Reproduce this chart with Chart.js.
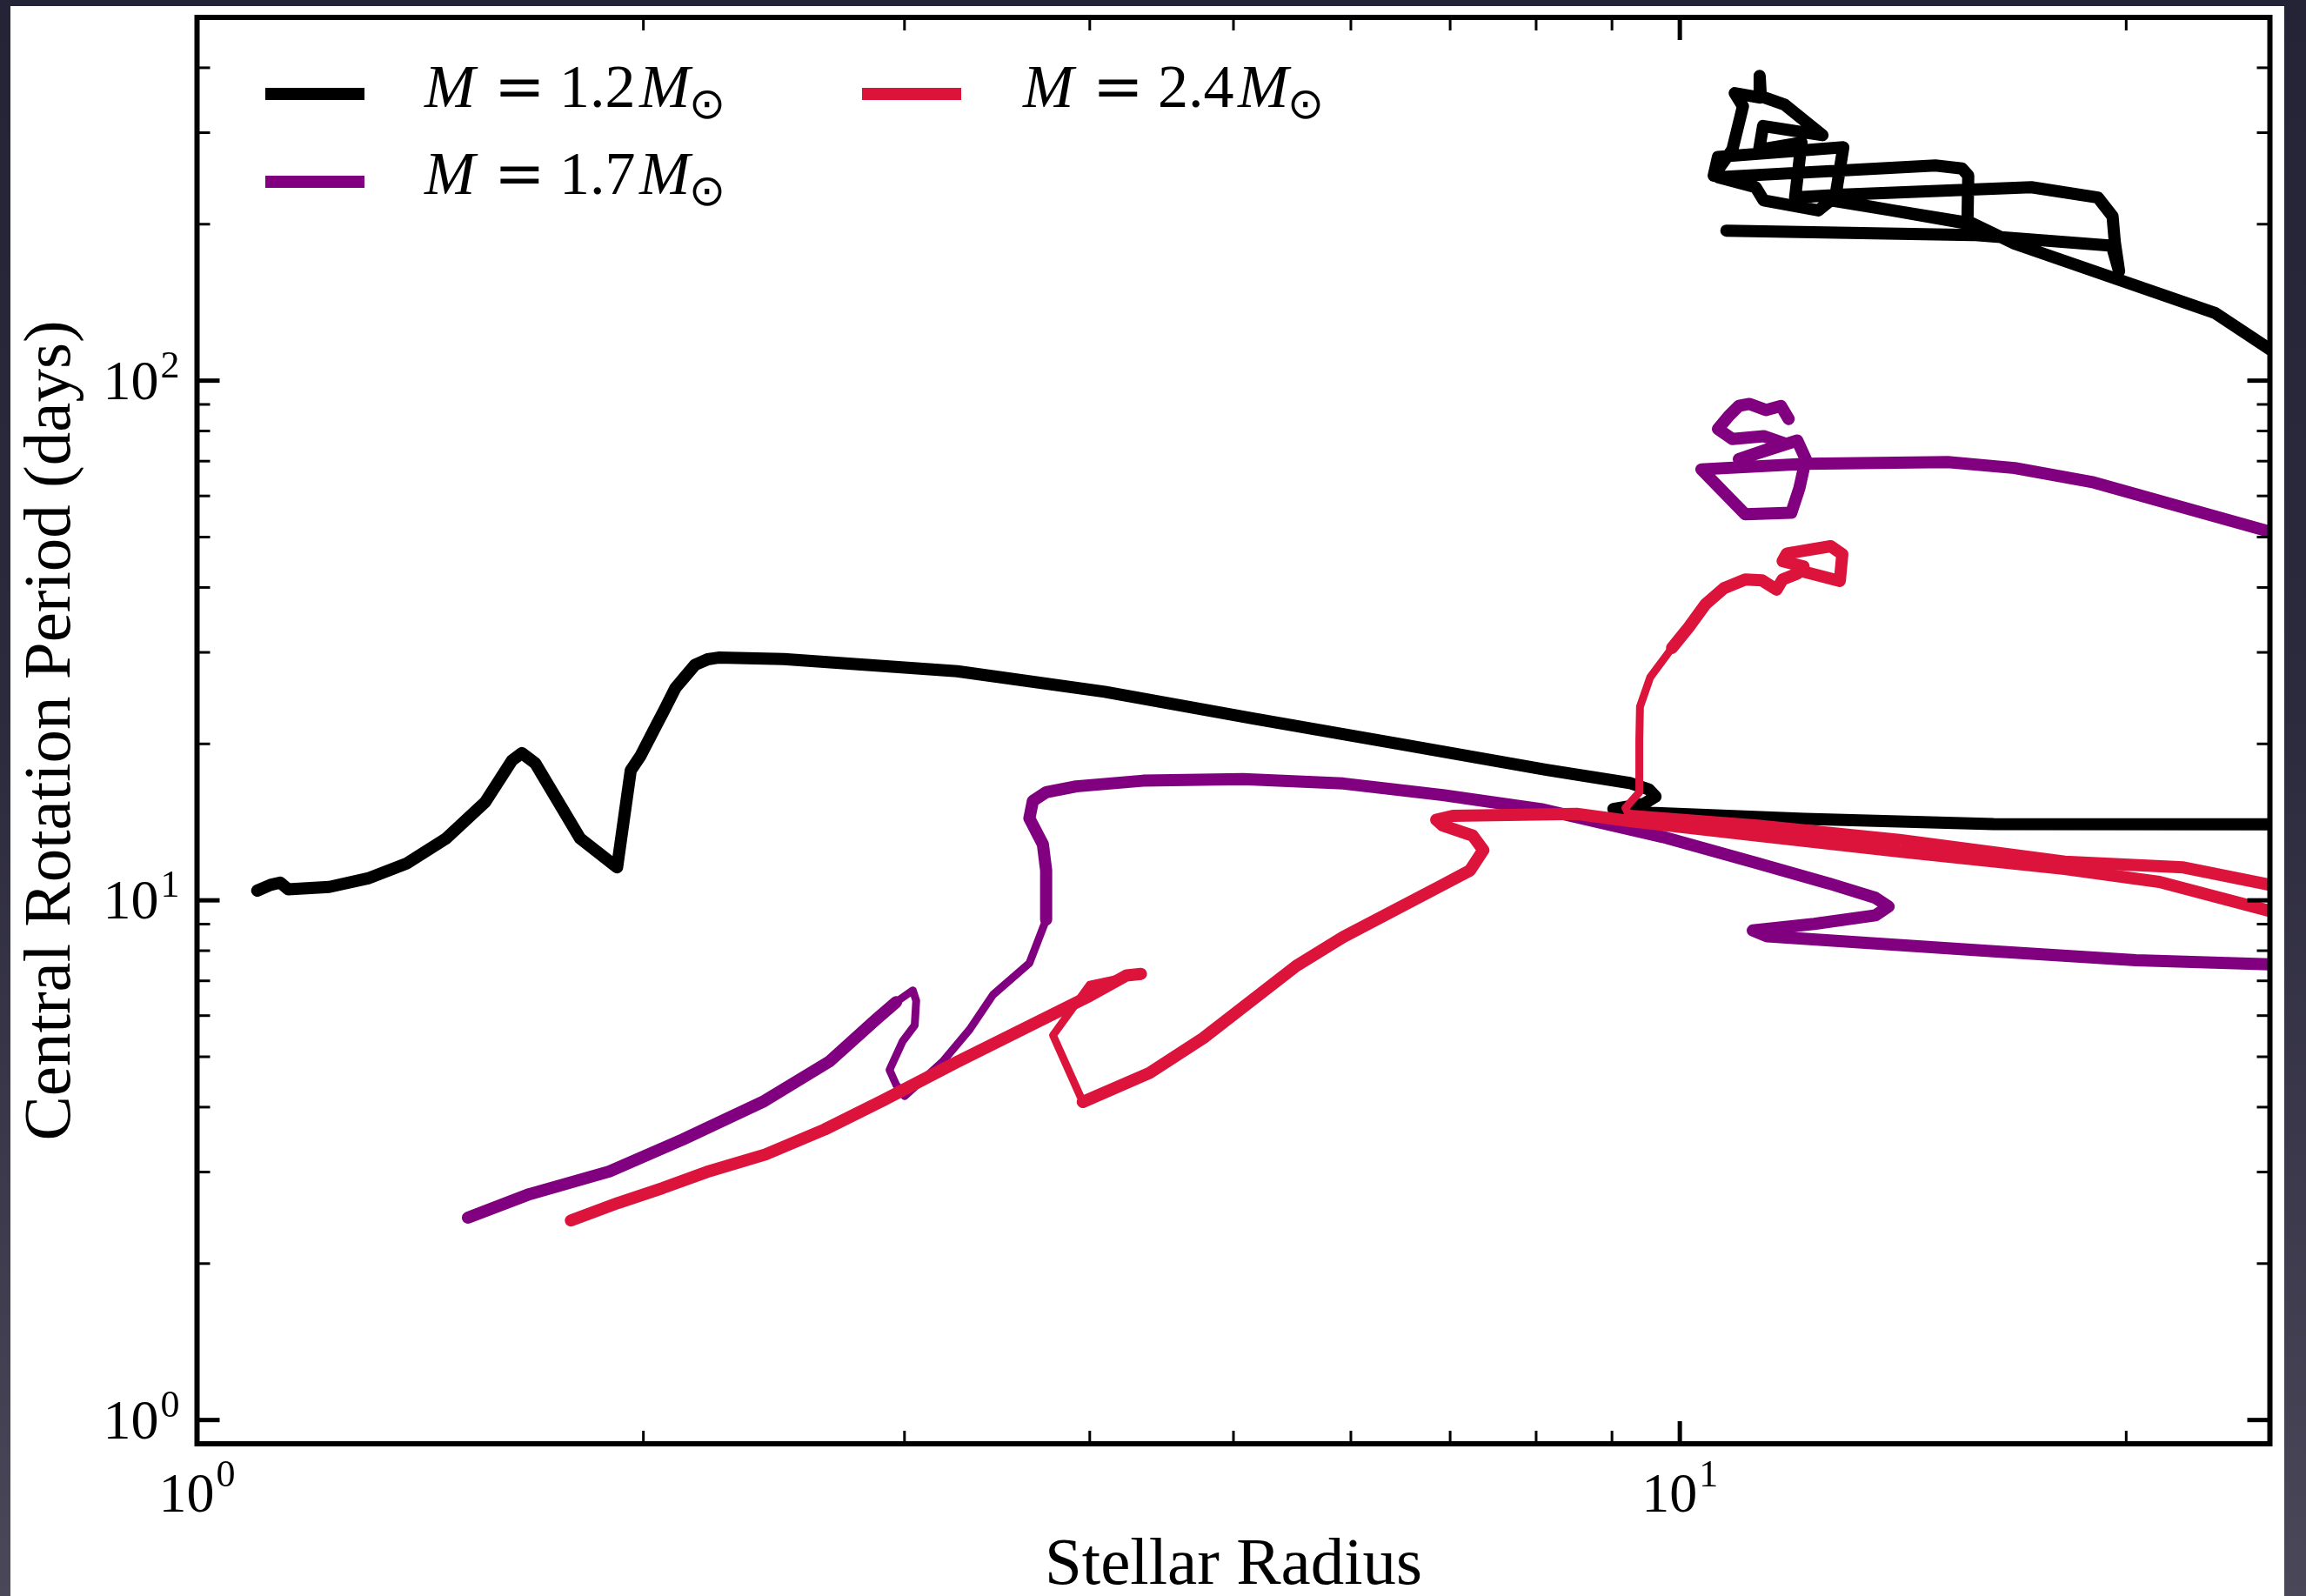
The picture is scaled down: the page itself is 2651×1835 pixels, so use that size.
<!DOCTYPE html>
<html>
<head>
<meta charset="utf-8">
<script src="https://cdn.jsdelivr.net/npm/chart.js@4.4.1/dist/chart.umd.min.js"></script>
<style>
  html, body { margin: 0; padding: 0; width: 2651px; height: 1835px; overflow: hidden;
    background: linear-gradient(to bottom, #252336 0%, #2c2a3d 45%, #4a4759 100%); }
  #panel { position: absolute; left: 12px; top: 7px; width: 2614px; height: 1828px; background: #ffffff; }
  canvas { display: block; }
</style>
</head>
<body>
<div id="panel"><canvas id="chart" width="2614" height="1828"></canvas></div>
<script>
// Stellar masses (solar units) and their line colours
const masses = ['1.2', '1.7', '2.4'];
const lineColors = ['#000000', '#800080', '#dc143c'];

// Evolutionary tracks: [stellar radius, central rotation period in days]; null = track leaves the axes
const track12 = [
  [1.098, 10.44], [1.121, 10.71], [1.138, 10.82], [1.152, 10.50], [1.228, 10.61], [1.304, 11.02],
  [1.386, 11.79], [1.472, 13.15], [1.564, 15.44], [1.631, 18.59], [1.656, 19.20], [1.691, 18.35],
  [1.813, 13.15], [1.920, 11.57], [1.961, 17.77], [1.991, 18.96], [2.040, 21.69], [2.064, 23.11],
  [2.102, 25.62], [2.167, 28.39], [2.210, 29.10], [2.247, 29.31], [2.487, 29.12], [3.256, 27.6], [4.094, 25.2],
  [5.147, 22.4], [6.47, 20.0], [8.13, 17.83], [9.25, 16.82], [9.53, 16.35], [9.63, 15.84],
  [9.46, 15.34], [9.02, 14.99], [9.39, 14.76], [12.14, 14.35], [16.28, 14.02], [25.0, 14.0],
  null,
  [25.0, 114.9], [22.96, 134.9], [16.82, 183.4], [15.76, 200.6], [12.64, 222.3], [12.40, 212.6],
  [11.39, 222.3], [11.25, 235.6], [10.61, 246.4], [14.87, 259.4], [15.50, 256.0], [15.65, 248.0],
  [15.63, 200.6], [12.72, 222.3], [12.89, 281.2], [10.61, 269.5], [10.54, 248.0], [10.85, 278.3],
  [11.03, 337.3], [10.89, 357.4], [11.32, 350.5], [11.32, 385.9], [11.34, 352.7], [11.77, 339.5],
  [12.48, 296.7], [12.04, 301.3], [11.38, 309.1], [11.31, 278.3], [12.08, 287.3], [11.96, 225.1],
  [12.89, 228.1], [17.26, 235.6], [19.14, 225.1], [19.58, 207.2], [19.65, 184.6], [19.78, 162.4],
  [19.56, 181.8], [15.76, 190.7], [10.75, 194.4]
];
const track17 = [
  [1.523, 2.452], [1.676, 2.721], [1.897, 3.008], [2.126, 3.465], [2.407, 4.093], [2.670, 4.898],
  [2.871, 5.90], [2.961, 6.37], [3.039, 6.71], [3.055, 6.41], [3.048, 5.75], [2.992, 5.36],
  [2.931, 4.716], [2.961, 4.42], [3.001, 4.20], [3.184, 4.898], [3.319, 5.64], [3.442, 6.58],
  [3.642, 7.57], [3.738, 9.18], [3.738, 11.42], [3.719, 12.82], [3.642, 14.38], [3.662, 15.54],
  [3.738, 16.14], [3.917, 16.57], [4.345, 16.99], [5.075, 17.11], [5.93, 16.78], [6.92, 15.94],
  [8.09, 14.95], [9.74, 13.24], [11.28, 11.79], [12.60, 10.78], [13.55, 10.11], [13.83, 9.73],
  [13.55, 9.36], [12.32, 9.01], [11.20, 8.75], [11.45, 8.53], [16.28, 7.98], [20.30, 7.67], [25.0, 7.53],
  null,
  [25.0, 51.2], [19.02, 63.7], [16.82, 67.9], [15.16, 69.7], [12.16, 69.2], [10.34, 67.5],
  [11.07, 55.3], [11.89, 55.7], [12.04, 62.1], [12.16, 70.6], [12.00, 76.7], [10.96, 70.6],
  [11.39, 73.3], [11.77, 75.7], [11.39, 78.2], [10.85, 77.2], [10.61, 80.7], [10.79, 85.5],
  [10.96, 89.4], [11.14, 90.2], [11.43, 87.8], [11.70, 89.4], [11.84, 84.4]
];
const track24 = [
  [1.787, 2.421], [1.923, 2.617], [2.060, 2.794], [2.206, 3.000], [2.417, 3.243], [2.650, 3.623],
  [2.904, 4.126], [3.255, 4.887], [3.650, 5.749], [4.000, 6.55], [4.236, 7.17], [4.331, 7.22],
  [4.00, 6.88], [3.778, 5.50], [3.957, 4.093], [4.389, 4.654], [4.77, 5.43], [5.513, 7.48],
  [5.93, 8.50], [6.92, 10.71], [7.22, 11.42], [7.37, 12.49], [7.25, 13.32], [6.92, 13.93],
  [6.85, 14.29], [7.03, 14.54], [8.52, 14.67], [9.25, 14.21], [11.28, 13.32], [14.06, 12.41],
  [18.18, 11.49], [21.06, 10.85], [25.0, 9.54],
  null,
  [25.0, 10.71], [21.86, 11.57], [18.18, 11.87], [14.06, 13.07], [11.28, 13.93], [9.25, 14.54],
  [9.19, 15.05], [9.39, 16.14], [9.39, 20.34], [9.40, 23.58], [9.55, 26.86], [9.88, 30.6],
  [10.14, 33.54], [10.41, 37.17], [10.71, 39.87], [11.07, 41.44], [11.36, 41.28], [11.62, 39.61],
  [11.73, 41.44], [12.00, 42.52], [12.12, 43.90], [11.73, 44.93], [11.81, 46.51], [12.64, 48.02],
  [12.87, 46.33], [12.82, 41.17], [12.12, 42.9]
];
const tracks = [track12, track17, track24];

// Axis limits and tick values
const xRange = [1, 25];
const yRange = [0.9, 500];
const xMajorTicks = [1, 10];
const xMinorTicks = [2, 3, 4, 5, 6, 7, 8, 9, 20];
const yMajorTicks = [1, 10, 100];
const yMinorTicks = [2, 3, 4, 5, 6, 7, 8, 9, 20, 30, 40, 50, 60, 70, 80, 90, 200, 300, 400];
const xTickLabels = [['10', '0'], ['10', '1']];
const yTickLabels = [['10', '0'], ['10', '1'], ['10', '2']];
const xTitle = 'Stellar Radius';
const yTitle = 'Central Rotation Period (days)';

// Stretches of a track drawn with a thinner pen (index ranges of segment start points)
const THICK = 14, THIN = 9;
const thinStretches = [[], [[7, 18]], [[11, 13], [39, 44]]];

function toPoints(track) {
  const pts = [];
  track.forEach((p, i) => {
    if (p === null) pts.push({ x: track[i - 1][0], y: null });
    else pts.push({ x: p[0], y: p[1] });
  });
  return pts;
}

const datasets = masses.map((m, i) => ({
  label: 'M = ' + m + ' M\u2299',
  mass: m,
  data: toPoints(tracks[i]),
  borderColor: lineColors[i],
  backgroundColor: lineColors[i],
  borderWidth: THICK,
  order: masses.length - i,
  clip: 0,
  segment: {
    borderWidth: ctx => thinStretches[i].some(([a, b]) => ctx.p0DataIndex >= a && ctx.p0DataIndex <= b) ? THIN : THICK
  }
}));

const SERIF = '"Liberation Serif", "Times New Roman", serif';

// Boxed frame with inward ticks on all four sides, tick labels and axis titles
const frameAndLabels = {
  id: 'frameAndLabels',
  afterDatasetsDraw(chart) {
    const { ctx, chartArea: a } = chart;
    const xs = chart.scales.x, ys = chart.scales.y;
    ctx.save();
    ctx.strokeStyle = '#000';
    ctx.lineCap = 'butt';
    const seg = (x1, y1, x2, y2, w) => {
      ctx.lineWidth = w; ctx.beginPath(); ctx.moveTo(x1, y1); ctx.lineTo(x2, y2); ctx.stroke();
    };
    xMinorTicks.forEach(v => { const p = xs.getPixelForValue(v); seg(p, a.bottom, p, a.bottom - 15, 3); seg(p, a.top, p, a.top + 15, 3); });
    xMajorTicks.forEach(v => { const p = xs.getPixelForValue(v); seg(p, a.bottom, p, a.bottom - 26, 5); seg(p, a.top, p, a.top + 26, 5); });
    yMinorTicks.forEach(v => { const p = ys.getPixelForValue(v); seg(a.left, p, a.left + 15, p, 3); seg(a.right, p, a.right - 15, p, 3); });
    yMajorTicks.forEach(v => { const p = ys.getPixelForValue(v); seg(a.left, p, a.left + 26, p, 5); seg(a.right, p, a.right - 26, p, 5); });
    ctx.lineWidth = 6;
    ctx.lineJoin = 'miter';
    ctx.strokeRect(a.left, a.top, a.right - a.left, a.bottom - a.top);
    ctx.restore();
  },
  afterDraw(chart) {
    const { ctx, chartArea: a } = chart;
    const xs = chart.scales.x, ys = chart.scales.y;
    ctx.save();
    ctx.fillStyle = '#000';
    ctx.textAlign = 'left';
    ctx.textBaseline = 'alphabetic';
    const BASE_FONT = '64px ' + SERIF, SUP_FONT = '44px ' + SERIF;
    const power = (lab, x, baseY, supY, align) => {
      ctx.font = BASE_FONT; const w1 = ctx.measureText(lab[0]).width;
      ctx.font = SUP_FONT; const w2 = ctx.measureText(lab[1]).width;
      const total = w1 + 2 + w2;
      const start = align === 'center' ? x - total / 2 : x - total;
      ctx.font = BASE_FONT; ctx.fillText(lab[0], start, baseY);
      ctx.font = SUP_FONT; ctx.fillText(lab[1], start + w1 + 2, supY);
    };
    xMajorTicks.forEach((v, i) => power(xTickLabels[i], xs.getPixelForValue(v), a.bottom + 78, a.bottom + 49, 'center'));
    yMajorTicks.forEach((v, i) => {
      const p = ys.getPixelForValue(v);
      power(yTickLabels[i], a.left - 20, p + 21, p - 4, 'right');
    });

    ctx.font = '77px ' + SERIF;
    ctx.textAlign = 'center';
    ctx.fillText(xTitle, (a.left + a.right) / 2, 1814);
    ctx.translate(68, (a.top + a.bottom) / 2);
    ctx.rotate(-Math.PI / 2);
    ctx.fillText(yTitle, 0, 0);
    ctx.restore();
  }
};

// Two-column legend: coloured bar followed by "M = m M⊙"
const massLegend = {
  id: 'massLegend',
  afterDraw(chart) {
    const { ctx } = chart;
    const slots = [
      { hx: 293, tx: 476, cy: 101, base: 116 },
      { hx: 293, tx: 476, cy: 202, base: 216 },
      { hx: 979, tx: 1164, cy: 101, base: 116 }
    ];
    ctx.save();
    chart.data.datasets.forEach((ds, i) => {
      const s = slots[i];
      ctx.fillStyle = ds.borderColor;
      ctx.fillRect(s.hx, s.cy - 7, 114, 14);
      ctx.fillStyle = '#000';
      ctx.textAlign = 'left';
      ctx.textBaseline = 'alphabetic';
      ctx.font = 'italic 70px ' + SERIF;
      ctx.fillText('M', s.tx, s.base);
      ctx.font = '70px "DejaVu Serif", serif';
      ctx.fillText('=', s.tx + 80, s.base);
      ctx.font = '70px ' + SERIF;
      ctx.fillText(ds.mass, s.tx + 155, s.base);
      ctx.font = 'italic 70px ' + SERIF;
      ctx.fillText('M', s.tx + 247, s.base);
      ctx.font = '50px "DejaVu Sans", sans-serif';
      ctx.textAlign = 'center';
      ctx.textBaseline = 'middle';
      ctx.fillText('\u2299', s.tx + 325, s.base);
    });
    ctx.restore();
  }
};

new Chart(document.getElementById('chart'), {
  type: 'line',
  data: { datasets },
  options: {
    responsive: false,
    animation: false,
    devicePixelRatio: 1,
    layout: { padding: { left: 214.5, right: 16.5, top: 13, bottom: 175 } },
    plugins: { legend: { display: false }, tooltip: { enabled: false }, title: { display: false } },
    elements: {
      point: { radius: 0, hoverRadius: 0 },
      line: { tension: 0, borderCapStyle: 'round', borderJoinStyle: 'round' }
    },
    scales: {
      x: { type: 'logarithmic', min: xRange[0], max: xRange[1], display: false },
      y: { type: 'logarithmic', min: yRange[0], max: yRange[1], display: false }
    }
  },
  plugins: [frameAndLabels, massLegend]
});
</script>
</body>
</html>
